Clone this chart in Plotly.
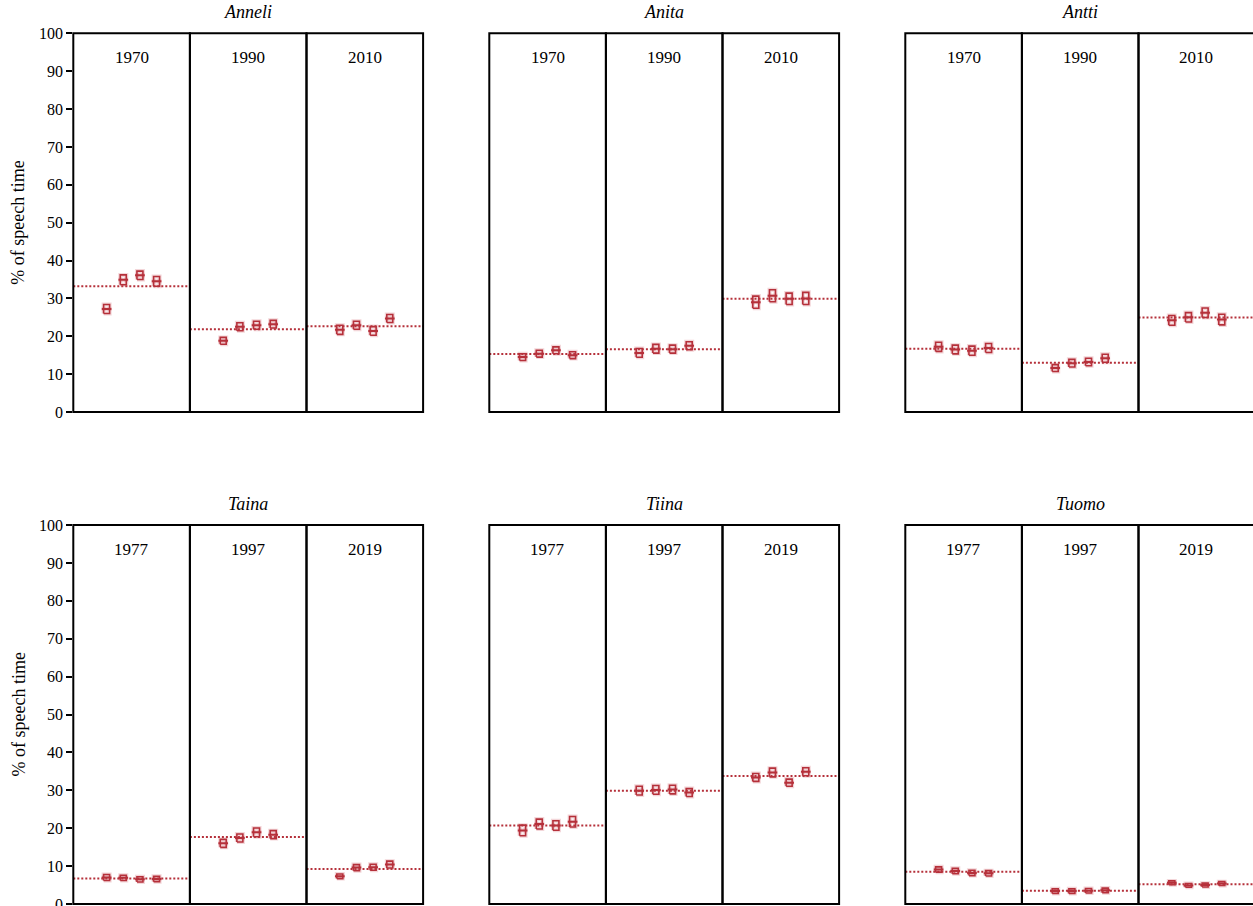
import numpy as np
import plotly.graph_objects as go

# Speakers, one panel each (top row recorded 1970/1990/2010, bottom row 1977/1997/2019)
speakers = ["Anneli", "Anita", "Antti", "Taina", "Tiina", "Tuomo"]
years_top = ["1970", "1990", "2010"]
years_bottom = ["1977", "1997", "2019"]
positions = [1, 2, 3, 4]
y_ticks = [0, 10, 20, 30, 40, 50, 60, 70, 80, 90, 100]

# Share of speech time (%) per recording year, four measurements per year
anneli_pct = [[27.2, 34.9, 36.1, 34.5], [18.8, 22.5, 22.9, 23.2], [21.7, 22.9, 21.4, 24.7]]
anita_pct = [[14.5, 15.4, 16.3, 15.0], [15.6, 16.7, 16.6, 17.5], [29.0, 30.7, 29.9, 30.0]]
antti_pct = [[17.2, 16.5, 16.2, 16.9], [11.6, 12.9, 13.2, 14.2], [24.2, 25.0, 26.2, 24.4]]
taina_pct = [[7.0, 6.9, 6.5, 6.6], [16.0, 17.4, 18.9, 18.3], [7.3, 9.6, 9.7, 10.4]]
tiina_pct = [[19.4, 21.1, 20.7, 21.7], [29.9, 30.1, 30.2, 29.4], [33.4, 34.7, 32.0, 34.9]]
tuomo_pct = [[9.1, 8.7, 8.2, 8.1], [3.4, 3.4, 3.5, 3.6], [5.6, 4.9, 5.0, 5.4]]

# Half-height of the interval box around each measurement (percentage points)
anneli_err = [[1.2, 1.3, 1.1, 1.3], [0.9, 1.05, 1.05, 1.0], [1.2, 1.05, 1.15, 1.05]]
anita_err = [[0.9, 0.9, 0.9, 0.9], [1.15, 1.15, 1.05, 1.05], [1.6, 1.6, 1.5, 1.6]]
antti_err = [[1.2, 1.15, 1.2, 1.2], [0.9, 1.0, 1.0, 1.05], [1.3, 1.25, 1.25, 1.4]]
taina_err = [[0.8, 0.7, 0.7, 0.7], [1.05, 1.05, 1.15, 1.05], [0.6, 0.8, 0.8, 0.9]]
tiina_err = [[1.4, 1.3, 1.25, 1.4], [1.15, 1.15, 1.15, 1.05], [1.05, 1.15, 0.95, 1.05]]
tuomo_err = [[0.7, 0.7, 0.7, 0.7], [0.6, 0.6, 0.6, 0.6], [0.5, 0.5, 0.5, 0.5]]

pct = [anneli_pct, anita_pct, antti_pct, taina_pct, tiina_pct, tuomo_pct]
err = [anneli_err, anita_err, antti_err, taina_err, tiina_err, tuomo_err]

RED = "#b5303a"
HALO = "rgba(200,70,80,0.22)"
FONT = "Liberation Serif"
W, H = 1253, 906

# Layout geometry in pixels
panel_left = [73.3, 489.3, 905.3]
facet_w = 116.6
row_px = [(33.3, 412.0), (525.0, 904.0)]
x_lo, x_hi = -1.0, 6.0
px_per_unit = facet_w / (x_hi - x_lo)

box_hw = 0.18
mid_hw = 0.29

fig = go.Figure()
layout = dict(width=W, height=H, margin=dict(l=0, r=0, t=0, b=0, autoexpand=False),
              plot_bgcolor="white", paper_bgcolor="white", showlegend=False)
shapes, annotations = [], []

for p, name in enumerate(speakers):
    row, col = divmod(p, 3)
    top_px, bot_px = row_px[row]
    yref = "y" if row == 0 else "y2"
    years = years_top if row == 0 else years_bottom
    for f in range(3):
        k = p * 3 + f + 1
        xname = "x" if k == 1 else f"x{k}"
        xkey = "xaxis" if k == 1 else f"xaxis{k}"
        left = panel_left[col] + f * facet_w
        right = left + facet_w
        rng_hi = x_hi
        if right > W:
            rng_hi = x_lo + (W - left) / px_per_unit
            right = W
        layout[xkey] = dict(domain=[left / W, right / W], range=[x_lo, rng_hi],
                            anchor=yref, showticklabels=False, ticks="",
                            showgrid=False, zeroline=False, showline=False, fixedrange=True)

        vals = np.array(pct[p][f])
        errs = np.array(err[p][f])
        mean = float(vals.mean())

        # dotted mean line across the facet
        fig.add_trace(go.Scatter(x=[x_lo, x_hi], y=[mean, mean], mode="lines",
                                 line=dict(color=RED, width=2, dash="2px,2px"),
                                 xaxis=xname, yaxis=yref, hoverinfo="skip"))

        bx, by, mx, my = [], [], [], []
        for xp, v, e in zip(positions, vals, errs):
            lo, hi = v - e, v + e
            bx += [xp - box_hw, xp + box_hw, xp + box_hw, xp - box_hw, xp - box_hw, None]
            by += [lo, lo, hi, hi, lo, None]
            mx += [xp - mid_hw, xp + mid_hw, None]
            my += [v, v, None]
        for lw, colr in ((4.0, HALO), (1.6, RED)):
            fig.add_trace(go.Scatter(x=bx, y=by, mode="lines",
                                     line=dict(color=colr, width=lw),
                                     xaxis=xname, yaxis=yref, hoverinfo="skip"))
        for lw, colr in ((4.2, HALO), (2.0, RED)):
            fig.add_trace(go.Scatter(x=mx, y=my, mode="lines",
                                     line=dict(color=colr, width=lw),
                                     xaxis=xname, yaxis=yref, hoverinfo="skip"))

        # facet frame
        shapes.append(dict(type="rect", xref=f"{xname} domain", yref=f"{yref} domain",
                           x0=0, x1=1.05 if rng_hi < x_hi else 1, y0=0, y1=1,
                           line=dict(color="black", width=2), fillcolor="rgba(0,0,0,0)",
                           layer="above"))
        # year label inside facet
        annotations.append(dict(text=years[f], xref=f"{xname} domain", x=0.5,
                                yref="paper", y=1 - (top_px + 24) / H,
                                showarrow=False, xanchor="center", yanchor="middle",
                                font=dict(family=FONT, size=17, color="black")))

    # speaker title above the panel
    annotations.append(dict(text=f"<i>{name}</i>", xref="paper",
                            x=(panel_left[col] + 1.5 * facet_w) / W,
                            yref="paper", y=1 - (top_px - 21) / H,
                            showarrow=False, xanchor="center", yanchor="middle",
                            font=dict(family=FONT, size=18, color="black")))

for row, (top_px, bot_px) in enumerate(row_px):
    ykey = "yaxis" if row == 0 else "yaxis2"
    layout[ykey] = dict(domain=[1 - bot_px / H, 1 - top_px / H], range=[0, 100],
                        anchor="x" if row == 0 else "x10",
                        tickmode="array", tickvals=y_ticks, ticktext=[str(t) for t in y_ticks],
                        ticks="outside", ticklen=6, tickwidth=2, tickcolor="black",
                        ticklabeloverflow="allow",
                        tickfont=dict(family=FONT, size=16, color="black"),
                        showgrid=False, zeroline=False, showline=False, fixedrange=True)
    annotations.append(dict(text="% of speech time", xref="paper", x=18 / W,
                            yref="paper", y=1 - (top_px + bot_px) / 2 / H,
                            textangle=-90, showarrow=False,
                            xanchor="center", yanchor="middle",
                            font=dict(family=FONT, size=18, color="black")))

layout["shapes"] = shapes
layout["annotations"] = annotations
fig.update_layout(**layout)
fig.write_html("out.html")
